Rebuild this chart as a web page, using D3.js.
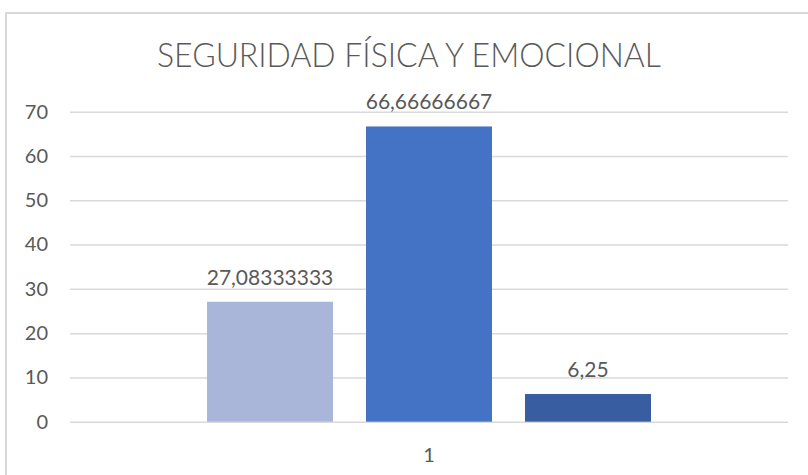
<!DOCTYPE html>
<html>

<head>
  <meta charset="utf-8">
  <title>Seguridad física y emocional</title>
  <style>
    body {
      margin: 0;
      background: #ffffff;
    }

    svg text {
      font-family: Lato, "Open Sans", sans-serif;
      fill: #595959;
    }
  </style>
</head>

<body>
  <svg></svg>
  <script src="https://cdnjs.cloudflare.com/ajax/libs/d3/7.8.5/d3.min.js"></script>
  <script>
    var width = 808,
      height = 475;

    // chart data
    var title = "SEGURIDAD FÍSICA Y EMOCIONAL";
    var categories = ["1"];
    var seriesNames = ["Serie1", "Serie2", "Serie3"];
    var seriesValues = [27.08333333, 66.66666667, 6.25];
    var valueLabels = ["27,08333333", "66,66666667", "6,25"];
    var yTicks = [0, 10, 20, 30, 40, 50, 60, 70];
    var colors = ["#a9b6da", "#4472c4", "#385da0"];

    var svg = d3.select("svg").attr("width", width).attr("height", height);

    // chart border (runs off the right and bottom edges)
    svg.append("rect")
      .attr("x", 6).attr("y", 13)
      .attr("width", 900).attr("height", 600)
      .style("fill", "#ffffff")
      .style("stroke", "#d9d9d9")
      .style("stroke-width", 2);

    var plotLeft = 70, plotRight = 788, plotTop = 111.7, plotBottom = 421.7;

    var y = d3.scaleLinear().domain([0, 70]).range([plotBottom, plotTop]);

    var x0 = d3.scaleBand().domain(categories)
      .range([plotLeft, plotRight])
      .paddingInner(0)
      .paddingOuter(0.3086);

    var x1 = d3.scaleBand().domain(seriesNames)
      .range([0, x0.bandwidth()])
      .paddingInner(0.2075)
      .paddingOuter(0);

    // y axis + gridlines
    var yAxis = svg.append("g")
      .attr("transform", "translate(" + plotLeft + ",0)")
      .call(d3.axisLeft(y).tickValues(yTicks).tickSize(-(plotRight - plotLeft)).tickPadding(22));
    yAxis.select(".domain").remove();
    yAxis.selectAll(".tick line").style("stroke", "#d9d9d9").style("stroke-width", 1.5);
    yAxis.selectAll(".tick text")
      .style("font-size", "20px")
      .style("fill", "#595959")
      .style("font-family", "Lato, 'Open Sans', sans-serif");

    // bars
    var group = svg.append("g").selectAll("g").data(categories)
      .enter()
      .append("g")
      .attr("transform", function (d) { return "translate(" + x0(d) + ",0)" });

    group.selectAll("rect")
      .data(seriesNames.map(function (s, i) { return { name: s, value: seriesValues[i], label: valueLabels[i], color: colors[i] } }))
      .enter()
      .append("rect")
      .attr("x", function (d) { return x1(d.name) })
      .attr("y", function (d) { return y(d.value) })
      .attr("width", x1.bandwidth())
      .attr("height", function (d) { return y(0) - y(d.value) })
      .style("fill", function (d) { return d.color });

    // data labels
    group.selectAll("text.lbl")
      .data(seriesNames.map(function (s, i) { return { name: s, value: seriesValues[i], label: valueLabels[i] } }))
      .enter()
      .append("text")
      .attr("class", "lbl")
      .attr("x", function (d) { return x1(d.name) + x1.bandwidth() / 2 })
      .attr("y", function (d) { return y(d.value) - 17 })
      .attr("text-anchor", "middle")
      .style("font-size", "21px")
      .text(function (d) { return d.label });

    // x axis
    var xAxis = svg.append("g")
      .attr("transform", "translate(0," + plotBottom + ")")
      .call(d3.axisBottom(x0).tickSize(0).tickPadding(26));
    xAxis.select(".domain").remove();
    xAxis.selectAll(".tick text")
      .style("font-size", "20px")
      .style("fill", "#595959")
      .style("font-family", "Lato, 'Open Sans', sans-serif");

    // title
    svg.append("text")
      .attr("x", 409)
      .attr("y", 67)
      .attr("text-anchor", "middle")
      .attr("textLength", 504)
      .attr("lengthAdjust", "spacingAndGlyphs")
      .style("font-size", "33px")
      .style("font-weight", 300)
      .text(title);
  </script>
</body>

</html>
